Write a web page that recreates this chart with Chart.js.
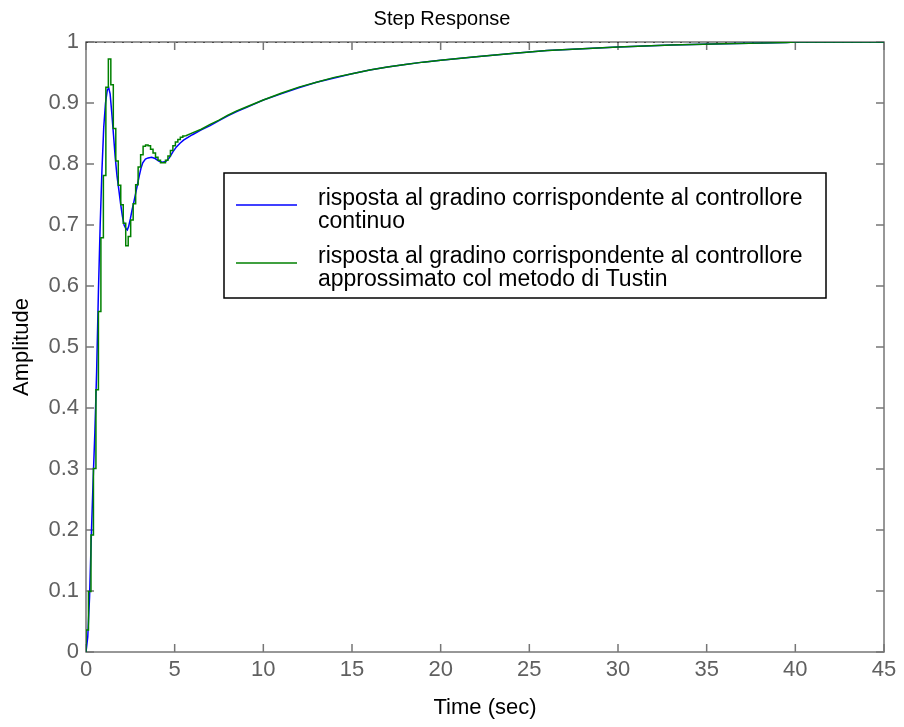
<!DOCTYPE html>
<html>
<head>
<meta charset="utf-8">
<title>Step Response</title>
<script src="https://cdn.jsdelivr.net/npm/chart.js@4.4.1/dist/chart.umd.min.js"></script>
<style>
  html, body { margin: 0; padding: 0; background: #fff; }
  canvas { display: block; }
</style>
</head>
<body>
<canvas id="step-chart" width="904" height="727"></canvas>
<script>
// continuous controller response
const continuousTimes = [0, 0.1, 0.2, 0.3, 0.4, 0.5, 0.6, 0.7, 0.8, 0.9, 1.0, 1.1, 1.2, 1.28, 1.36, 1.45,
  1.55, 1.65, 1.75, 1.85, 1.95, 2.05, 2.15, 2.25, 2.33, 2.4, 2.5, 2.6, 2.7, 2.8, 2.9, 3.0, 3.1, 3.2,
  3.35, 3.5, 3.7, 3.9, 4.1, 4.3, 4.5, 4.7, 4.9, 5.1, 5.3, 5.5, 6.0, 6.5, 7.0, 7.5, 8.0, 8.5, 9.0,
  10, 11, 12, 13, 14, 15, 16, 17, 18, 19, 20, 22, 24, 26, 28, 30, 33, 36, 39.5, 40, 45];
const continuousValues = [0, 0.025, 0.09, 0.19, 0.28, 0.36, 0.46, 0.59, 0.70, 0.79, 0.86, 0.90, 0.921, 0.925, 0.915, 0.885,
  0.848, 0.81, 0.78, 0.758, 0.735, 0.715, 0.70, 0.694, 0.692, 0.697, 0.71, 0.725, 0.738, 0.752, 0.766, 0.78, 0.793, 0.802,
  0.808, 0.810, 0.811, 0.809, 0.805, 0.803, 0.804, 0.810, 0.820, 0.828, 0.834, 0.839, 0.848, 0.856, 0.863, 0.871, 0.879, 0.886, 0.892,
  0.905, 0.915, 0.925, 0.934, 0.941, 0.948, 0.954, 0.959, 0.963, 0.967, 0.970, 0.976, 0.981, 0.986, 0.989, 0.992, 0.995, 0.997, 0.999, 1.0, 1.0];

// Tustin (discrete) response: sampled staircase at the start, then the slow tail
const tustinStepTimes = [0, 0.14, 0.28, 0.42, 0.56, 0.70, 0.84, 0.98, 1.12, 1.26, 1.40, 1.54, 1.68, 1.82,
  1.96, 2.10, 2.24, 2.38, 2.52, 2.66, 2.80, 2.94, 3.08, 3.22, 3.36, 3.50, 3.64, 3.78, 3.92, 4.06,
  4.20, 4.34, 4.48, 4.62, 4.76, 4.90, 5.04, 5.18, 5.32, 5.46, 5.60];
const tustinStepValues = [0, 0.036, 0.099, 0.192, 0.301, 0.430, 0.558, 0.679, 0.781, 0.926, 0.972, 0.930, 0.858, 0.805,
  0.765, 0.733, 0.703, 0.666, 0.681, 0.708, 0.735, 0.766, 0.795, 0.815, 0.829, 0.831, 0.830, 0.824, 0.818, 0.811,
  0.806, 0.802, 0.802, 0.806, 0.813, 0.822, 0.830, 0.836, 0.840, 0.844, 0.846];
const tustinTailTimes = [5.6, 6.0, 6.5, 7.0, 7.5, 8.0, 8.5, 9.0, 10, 11, 12, 13, 14, 15, 16, 17, 18, 19, 20,
  22, 24, 26, 28, 30, 33, 36, 39.5, 40, 45];
const tustinTailValues = [0.846, 0.851, 0.857, 0.865, 0.872, 0.880, 0.887, 0.893, 0.905, 0.916, 0.926, 0.934, 0.942, 0.948, 0.954, 0.959, 0.963, 0.967, 0.970,
  0.976, 0.981, 0.986, 0.989, 0.992, 0.995, 0.997, 0.999, 1.0, 1.0];

// steady state reference (dotted line)
const steadyTimes = [0, 45];
const steadyValues = [1, 1];

const xTickLabels = ['0', '5', '10', '15', '20', '25', '30', '35', '40', '45'];
const yTickLabels = ['0', '0.1', '0.2', '0.3', '0.4', '0.5', '0.6', '0.7', '0.8', '0.9', '1'];

const legendLines = [
  ['risposta al gradino corrispondente al controllore', 'continuo'],
  ['risposta al gradino corrispondente al controllore', 'approssimato col metodo di Tustin']
];

const FONT = "'Liberation Sans', Arial, Helvetica, sans-serif";
const BLUE = '#0000ff';
const GREEN = '#008000';
const AXIS_GREY = '#767676';

const toPoints = (xs, ys) => xs.map((x, i) => ({ x: x, y: ys[i] }));

// axis box with inward ticks on all four sides (matlab style)
const boxAxes = {
  id: 'boxAxes',
  beforeDatasetsDraw(chart) {
    const { ctx, chartArea: a, scales } = chart;
    ctx.save();
    ctx.strokeStyle = AXIS_GREY;
    ctx.lineWidth = 1.5;
    ctx.strokeRect(a.left, a.top, a.right - a.left, a.bottom - a.top);
    ctx.beginPath();
    scales.x.ticks.forEach((t) => {
      const px = scales.x.getPixelForValue(t.value);
      ctx.moveTo(px, a.bottom); ctx.lineTo(px, a.bottom - 8);
      ctx.moveTo(px, a.top); ctx.lineTo(px, a.top + 8);
    });
    scales.y.ticks.forEach((t) => {
      const py = scales.y.getPixelForValue(t.value);
      ctx.moveTo(a.left, py); ctx.lineTo(a.left + 8, py);
      ctx.moveTo(a.right, py); ctx.lineTo(a.right - 8, py);
    });
    ctx.stroke();
    ctx.restore();
  }
};

// legend box inside the plot, entries on two lines each
const boxLegend = {
  id: 'boxLegend',
  afterDatasetsDraw(chart) {
    const { ctx, chartArea: a } = chart;
    const left = a.left + 138, top = a.top + 131, w = 602, h = 125;
    ctx.save();
    ctx.fillStyle = '#fff';
    ctx.fillRect(left, top, w, h);
    ctx.strokeStyle = '#000';
    ctx.lineWidth = 1.5;
    ctx.strokeRect(left, top, w, h);
    ctx.font = '23px ' + FONT;
    ctx.textBaseline = 'middle';
    ctx.fillStyle = '#000';
    const colors = [BLUE, GREEN];
    legendLines.forEach((lines, i) => {
      const y0 = top + 26 + i * 58;
      ctx.strokeStyle = colors[i];
      ctx.lineWidth = 1.5;
      ctx.beginPath();
      ctx.moveTo(left + 12, y0 + 6);
      ctx.lineTo(left + 73, y0 + 6);
      ctx.stroke();
      lines.forEach((txt, j) => ctx.fillText(txt, left + 94, y0 + j * 23));
    });
    ctx.restore();
  }
};

new Chart(document.getElementById('step-chart'), {
  type: 'line',
  data: {
    datasets: [
      {
        label: legendLines[1].join(' '),
        data: toPoints(tustinStepTimes, tustinStepValues),
        stepped: 'after',
        borderColor: GREEN,
        borderWidth: 1.5,
        pointRadius: 0,
        order: 0
      },
      {
        label: 'tustin-tail',
        data: toPoints(tustinTailTimes, tustinTailValues),
        borderColor: GREEN,
        borderWidth: 1.5,
        pointRadius: 0,
        order: 0
      },
      {
        label: legendLines[0].join(' '),
        data: toPoints(continuousTimes, continuousValues),
        borderColor: BLUE,
        borderWidth: 1.5,
        pointRadius: 0,
        order: 1
      },
      {
        label: 'steady state',
        data: toPoints(steadyTimes, steadyValues),
        borderColor: '#000',
        borderWidth: 1,
        borderDash: [2, 7],
        pointRadius: 0,
        order: 2
      }
    ]
  },
  options: {
    responsive: false,
    animation: false,
    layout: { padding: { left: 0, right: 20, top: 0, bottom: 0 } },
    plugins: {
      legend: { display: false },
      tooltip: { enabled: false },
      title: {
        display: true,
        text: 'Step Response',
        color: '#000',
        font: { family: FONT, size: 20, weight: 'normal' },
        padding: { top: 7, bottom: 11 }
      }
    },
    scales: {
      x: {
        type: 'linear',
        min: 0,
        max: 45,
        border: { display: false },
        grid: { display: false, drawTicks: false },
        ticks: {
          stepSize: 5,
          padding: 5,
          color: '#606060',
          font: { family: FONT, size: 22 },
          maxRotation: 0,
          callback: (v, i) => xTickLabels[i]
        },
        title: {
          display: true,
          text: 'Time (sec)',
          color: '#000',
          font: { family: FONT, size: 22 },
          padding: { top: 0, bottom: 6 }
        },
        afterFit: (s) => { s.height = 75; }
      },
      y: {
        type: 'linear',
        min: 0,
        max: 1,
        border: { display: false },
        grid: { display: false, drawTicks: false },
        ticks: {
          stepSize: 0.1,
          padding: 7,
          color: '#606060',
          font: { family: FONT, size: 22 },
          callback: (v, i) => yTickLabels[i]
        },
        title: {
          display: true,
          text: 'Amplitude',
          color: '#000',
          font: { family: FONT, size: 22 },
          padding: { top: 9, bottom: 0 }
        },
        afterFit: (s) => { s.width = 86; }
      }
    }
  },
  plugins: [boxAxes, boxLegend]
});
</script>
</body>
</html>
